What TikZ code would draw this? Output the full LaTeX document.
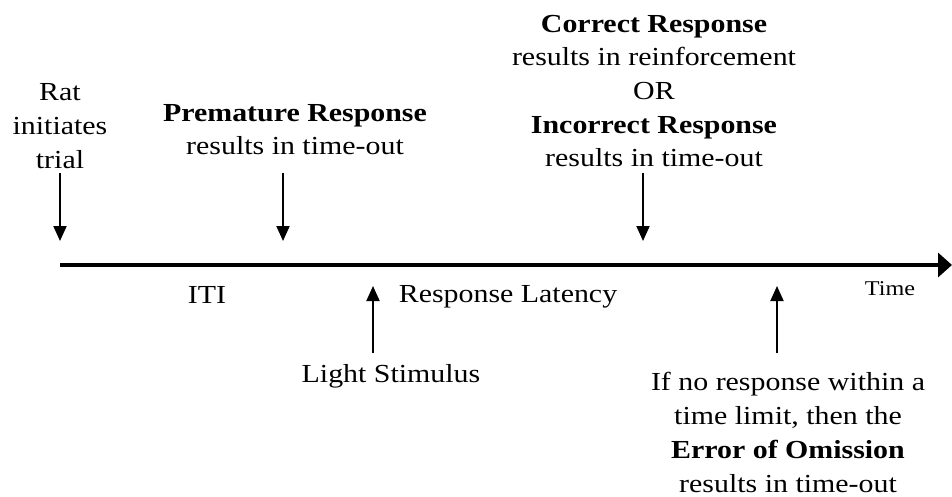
\documentclass[tikz,border=0pt]{standalone}
\usepackage{fontspec}
\setmainfont[FakeStretch=1.15]{Liberation Serif}
\usetikzlibrary{arrows.meta}

\tikzset{
  lbl/.style={align=center, inner sep=0pt, anchor=base,
    font=\fontsize{26}{33.7}\selectfont},
  small/.style={lbl, font=\fontsize{21}{25}\selectfont},
  tick/.style={line width=2pt, -{Triangle[length=15pt,width=13pt]}},
  axis/.style={line width=4pt, -{Triangle[length=14pt,width=24pt]}},
}

\begin{document}
\begin{tikzpicture}[x=1pt,y=-1pt]
  \useasboundingbox (0,0) rectangle (952,497);
  % labels above the time line
  \node[lbl] (rat) at (60,168) {Rat\\initiates\\trial};
  \node[lbl] (premature) at (295,155) {\textbf{Premature Response}\\results in time-out};
  \node[lbl] (correct) at (654,167) {\textbf{Correct Response}\\results in reinforcement\\OR\\\textbf{Incorrect Response}\\results in time-out};
  % labels below the time line
  \node[lbl] (iti) at (207,303) {ITI};
  \node[lbl] (latency) at (508,302) {Response Latency};
  \node[small] (time) at (890,295) {Time};
  \node[lbl] (light) at (391,382) {Light Stimulus};
  \node[lbl] (omission) at (788,492) {If no response within a\\time limit, then the\\\textbf{Error of Omission}\\results in time-out};
  % time line
  \coordinate (t0) at (60,265);
  \coordinate (t1) at (952,265);
  \draw[axis] (t0) -- (t1);
  % event markers
  \coordinate (rat-a) at (60,173);
  \coordinate (rat-b) at (60,241);
  \coordinate (premature-a) at (283,173);
  \coordinate (premature-b) at (283,241);
  \coordinate (correct-a) at (643,173);
  \coordinate (correct-b) at (643,241);
  \coordinate (light-a) at (373,353);
  \coordinate (light-b) at (373,286);
  \coordinate (omission-a) at (777,353);
  \coordinate (omission-b) at (777,286);
  \draw[tick] (rat-a) -- (rat-b);
  \draw[tick] (premature-a) -- (premature-b);
  \draw[tick] (correct-a) -- (correct-b);
  \draw[tick] (light-a) -- (light-b);
  \draw[tick] (omission-a) -- (omission-b);
\end{tikzpicture}
\end{document}
